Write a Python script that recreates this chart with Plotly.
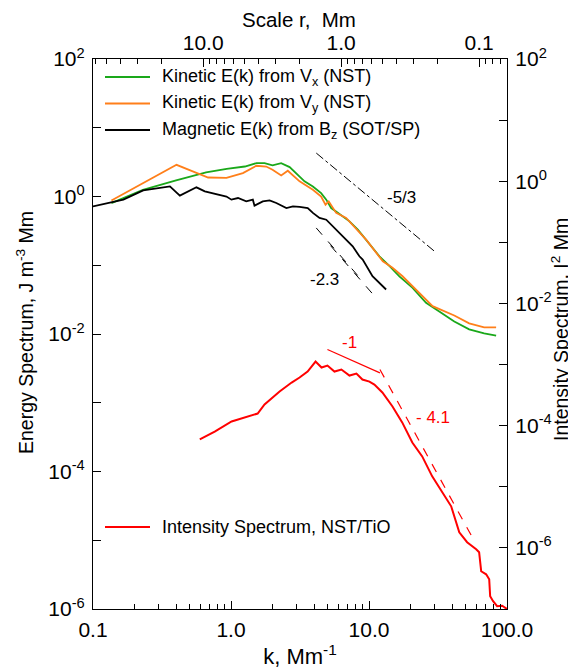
import math
import plotly.graph_objects as go

# ---------------- data ----------------
green_k = [0.136, 0.23, 0.40, 0.66, 0.93, 1.26, 1.53, 1.75, 2.0, 2.31, 2.66, 3.0, 3.41, 3.92, 4.5, 4.9,
           5.32, 5.94, 6.6, 7.22, 8.3, 9.53, 11.9, 14.1, 16.6, 20.7, 25.9, 32.3, 41.5, 53.2, 68.3, 83.4]
green_E = [0.80, 1.25, 1.71, 2.24, 2.53, 2.73, 3.06, 3.06, 2.83, 3.06, 2.68, 2.1, 1.66, 1.40, 1.12, 0.90,
           0.68, 0.58, 0.50, 0.435, 0.33, 0.236, 0.135, 0.097, 0.069, 0.047, 0.0285, 0.0213, 0.0152, 0.0117, 0.0102, 0.0095]

orange_k = [0.136, 0.403, 0.683, 0.927, 1.22, 1.527, 1.80, 2.0, 2.31, 2.58, 3.14, 3.92, 4.5, 4.84, 5.11,
            5.78, 6.83, 8.52, 9.53, 12.6, 14.8, 17.5, 21.9, 28.9, 41.5, 53.2, 68.3, 83.4]
orange_E = [0.877, 2.89, 1.89, 1.86, 2.19, 2.80, 2.73, 2.45, 2.02, 2.37, 1.66, 1.256, 1.0, 0.76, 0.85,
            0.577, 0.488, 0.295, 0.236, 0.114, 0.0917, 0.0692, 0.0444, 0.0254, 0.0186, 0.0143, 0.0125, 0.0125]

black_k = [0.1, 0.136, 0.166, 0.231, 0.305, 0.361, 0.426, 0.562, 0.646, 0.927, 1.007, 1.124, 1.29, 1.44, 1.48,
           1.70, 1.905, 2.13, 2.52, 2.81, 3.14, 3.60, 3.92, 4.38, 4.90, 5.78, 6.83, 7.62, 8.52, 9.0, 10.6, 11.9, 13.3]
black_E = [0.718, 0.82, 0.90, 1.23, 1.33, 1.40, 1.03, 1.36, 1.19, 1.0, 0.90, 0.95, 0.85, 0.90, 0.736,
           0.85, 0.877, 0.805, 0.68, 0.718, 0.705, 0.68, 0.577, 0.488, 0.46, 0.33, 0.236, 0.189, 0.135, 0.121, 0.0692, 0.0556, 0.0444]

red_k = [0.594, 0.762, 1.01, 1.32, 1.56, 1.75, 2.25, 2.75, 3.14, 3.59, 4.10, 4.53, 5.0, 5.62, 6.31, 7.22, 8.11,
         8.96, 10.07, 10.94, 12.5, 14.8, 17.4, 20.6, 24.3, 28.7, 34.0, 39.4, 45.1, 51.4, 59.8, 62.8, 65.0, 70.6,
         74.3, 75.5, 79.3, 84.8, 92.2, 100.0]
red_I = [5.95e-5, 8.0e-5, 1.17e-4, 1.41e-4, 1.58e-4, 2.22e-4, 3.62e-4, 5.08e-4, 6.14e-4, 7.69e-4, 1.12e-3, 8.93e-4,
         9.64e-4, 7.69e-4, 8.28e-4, 6.61e-4, 7.13e-4, 5.69e-4, 5.27e-4, 4.71e-4, 3.49e-4, 2.06e-4, 1.13e-4, 5.31e-5,
         3.14e-5, 1.48e-5, 8.1e-6, 4.79e-6, 1.80e-6, 1.24e-6, 9.5e-7, 8.5e-7, 4.15e-7, 3.7e-7, 3.07e-7, 1.62e-7,
         1.34e-7, 1.11e-7, 1.13e-7, 1.0e-7]

# reference power-law segments (endpoints)
fit53_k = [4.15, 30.6]
fit53_E = [4.28, 0.153]
fit23a_k = [4.145, 8.81]
fit23a_E = [0.349, 0.0616]
fit23b_k = [5.26, 11.25]
fit23b_E = [0.193, 0.0336]
fit1_k = [5.0, 12.0]
fit1_I = [1.76e-3, 7.3e-4]
fit41_k = [12.0, 55.0]
fit41_I = [8.3e-4, 1.61e-6]

# tick labels
x_tickvals = [0.1, 1, 10, 100]
x_ticktext = ["0.1", "1.0", "10.0", "100.0"]
r_tickvals = [10, 1, 0.1]
r_ticktext = ["10.0", "1.0", "0.1"]
yl_tickvals = [10.0 ** p for p in range(-6, 3, 2)]
yl_ticktext = ["10<sup>%d</sup>" % p for p in range(-6, 3, 2)]
yl_minorvals = [10.0 ** p for p in range(-5, 2, 2)]
yr_tickvals = [10.0 ** p for p in range(-6, 3, 2)]
yr_ticktext = ["10<sup>%d</sup>" % p for p in range(-6, 3, 2)]
yr_minorvals = [10.0 ** p for p in range(-7, 2, 2)]

legend_names = ["Kinetic E(k) from V<sub>x</sub> (NST)",
                "Kinetic E(k) from V<sub>y</sub> (NST)",
                "Magnetic E(k) from B<sub>z</sub> (SOT/SP)",
                "Intensity Spectrum, NST/TiO"]

GREEN = "#1aa81a"
ORANGE = "#ff7f1a"
RED = "#ff0000"
FONT = "Liberation Sans, Arial, Helvetica, sans-serif"

fig = go.Figure()
fig.add_trace(go.Scatter(x=green_k, y=green_E, mode="lines", line=dict(color=GREEN, width=1.8), showlegend=False))
fig.add_trace(go.Scatter(x=orange_k, y=orange_E, mode="lines", line=dict(color=ORANGE, width=1.8), showlegend=False))
fig.add_trace(go.Scatter(x=black_k, y=black_E, mode="lines", line=dict(color="black", width=1.8), showlegend=False))
fig.add_trace(go.Scatter(x=fit53_k, y=fit53_E, mode="lines", line=dict(color="black", width=1, dash="dashdot"), showlegend=False))
fig.add_trace(go.Scatter(x=fit23a_k, y=fit23a_E, mode="lines", line=dict(color="black", width=1, dash="dash"), showlegend=False))
fig.add_trace(go.Scatter(x=fit23b_k, y=fit23b_E, mode="lines", line=dict(color="black", width=1, dash="dash"), showlegend=False))
fig.add_trace(go.Scatter(x=red_k, y=red_I, mode="lines", line=dict(color=RED, width=2), yaxis="y2", showlegend=False))
fig.add_trace(go.Scatter(x=fit1_k, y=fit1_I, mode="lines", line=dict(color=RED, width=1.2), yaxis="y2", showlegend=False))
fig.add_trace(go.Scatter(x=fit41_k, y=fit41_I, mode="lines", line=dict(color=RED, width=1.2, dash="dash"), yaxis="y2", showlegend=False))
# top axis (scale r = 2*pi/k)
fig.add_trace(go.Scatter(x=[2 * math.pi / k for k in green_k], y=green_E, mode="lines", xaxis="x2",
                         line=dict(width=0), hoverinfo="skip", showlegend=False, opacity=0))

def minor_vals(lo, hi):
    out = []
    for p in range(lo, hi):
        for d in range(2, 10):
            out.append(d * 10.0 ** p)
    return out

TICKFONT = dict(family=FONT, size=21, color="black")
axis_common = dict(showline=True, linecolor="black", linewidth=1.2, ticks="inside", ticklen=8,
                   tickcolor="black", showgrid=False, zeroline=False, mirror=False, tickfont=TICKFONT)

# the page body adds an 8px margin: the figure is sized/offset to compensate
fig.update_layout(
    width=568, height=663,
    margin=dict(l=85, r=69, t=51, b=62, autoexpand=False),
    paper_bgcolor="white", plot_bgcolor="white",
    font=dict(family=FONT, color="black"),
    xaxis=dict(type="log", range=[-1, 2], tickmode="array", tickvals=x_tickvals, ticktext=x_ticktext,
               minor=dict(tickmode="array", tickvals=minor_vals(-1, 2), ticks="inside", ticklen=5, tickcolor="black"),
               title=dict(text="k, Mm<sup>-1</sup>", font=dict(family=FONT, size=22), standoff=8),
               ticklabelstandoff=2, **axis_common),
    xaxis2=dict(type="log", overlaying="x", side="top",
                range=[math.log10(2 * math.pi / 0.1), math.log10(2 * math.pi / 100)],
                tickmode="array", tickvals=r_tickvals, ticktext=r_ticktext,
                minor=dict(tickmode="array", tickvals=minor_vals(-2, 2), ticks="inside", ticklen=5, tickcolor="black"),
                **axis_common),
    yaxis=dict(type="log", range=[-6, 2], tickmode="array", tickvals=yl_tickvals, ticktext=yl_ticktext,
               minor=dict(tickmode="array", tickvals=yl_minorvals, ticks="inside", ticklen=8, tickcolor="black"),
               ticklabelstandoff=3, **axis_common),
    yaxis2=dict(type="log", overlaying="y", side="right", range=[-7, 2], tickmode="array",
                tickvals=yr_tickvals, ticktext=yr_ticktext,
                minor=dict(tickmode="array", tickvals=yr_minorvals, ticks="inside", ticklen=8, tickcolor="black"),
                ticklabelstandoff=3, **axis_common),
)

def px_x(xp):
    return (xp - 93) / 414.0

def px_y(yp):
    return 1 - (yp - 59) / 550.0

# axis titles placed as annotations (page px)
fig.add_annotation(xref="paper", yref="paper", x=px_x(299), y=px_y(19.5), text="Scale r,&nbsp; Mm",
                   showarrow=False, xanchor="center", yanchor="middle", font=dict(family=FONT, size=20.5))
fig.add_annotation(xref="paper", yref="paper", x=px_x(25), y=px_y(333), text="Energy Spectrum, J m<sup>-3</sup> Mm",
                   showarrow=False, textangle=-90, xanchor="center", yanchor="middle", font=dict(family=FONT, size=19.5))
fig.add_annotation(xref="paper", yref="paper", x=px_x(560), y=px_y(330), text="Intensity Spectrum, I<sup>2</sup> Mm",
                   showarrow=False, textangle=-90, xanchor="center", yanchor="middle", font=dict(family=FONT, size=19.5))

# legend (drawn manually to match placement)
legend_colors = [GREEN, ORANGE, "black", RED]
legend_y = [77, 103.5, 130, 527]
for name, col, yp in zip(legend_names, legend_colors, legend_y):
    yy = px_y(yp)
    fig.add_shape(type="line", xref="paper", yref="paper", x0=px_x(105), x1=px_x(150), y0=yy, y1=yy,
                  line=dict(color=col, width=2))
    fig.add_annotation(xref="paper", yref="paper", x=px_x(160), y=yy, text=name, showarrow=False,
                       xanchor="left", yanchor="middle", font=dict(family=FONT, size=18, color="black"))

# slope labels
fig.add_annotation(x=math.log10(17.1), y=math.log10(0.96), text="-5/3", showarrow=False,
                   font=dict(family=FONT, size=17, color="black"))
fig.add_annotation(x=math.log10(4.76), y=math.log10(0.062), text="-2.3", showarrow=False,
                   font=dict(family=FONT, size=17, color="black"))
fig.add_annotation(x=math.log10(7.2), y=math.log10(2.3e-3), yref="y2", text="-1", showarrow=False,
                   font=dict(family=FONT, size=17, color=RED))
fig.add_annotation(x=math.log10(29.0), y=math.log10(1.36e-4), yref="y2", text="- 4.1", showarrow=False,
                   font=dict(family=FONT, size=17, color=RED))

fig.write_html("out.html")
